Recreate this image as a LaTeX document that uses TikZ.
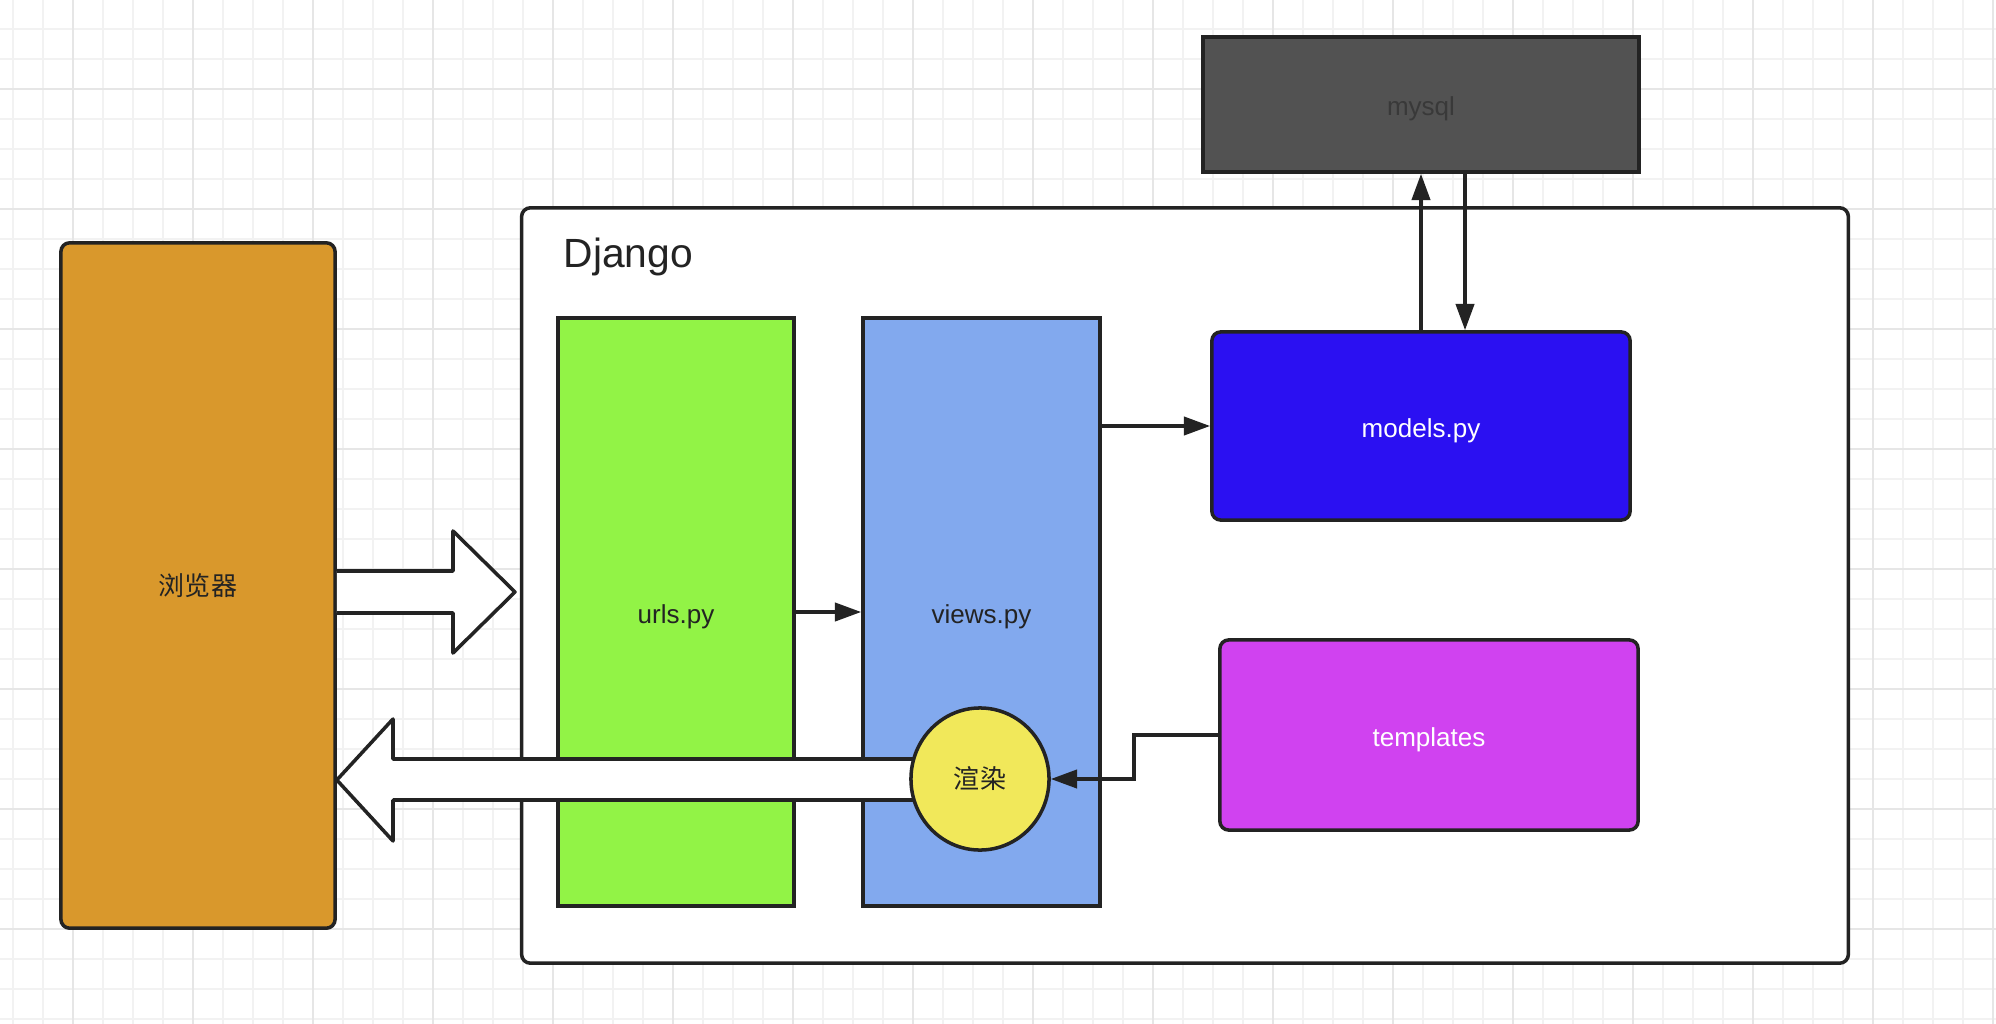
\documentclass[tikz,border=0pt]{standalone}
\usepackage{fontspec}
\setmainfont{Liberation Sans}
\newfontfamily\cjk{Noto Sans CJK SC}
\usepackage{xcolor}
\usetikzlibrary{arrows.meta, positioning, shapes.geometric}

\definecolor{edge}{HTML}{232323}
\definecolor{gridminor}{HTML}{F2F2F2}
\definecolor{gridmajor}{HTML}{E6E6E6}
\definecolor{browsercol}{HTML}{D9982C}
\definecolor{urlscol}{HTML}{92F346}
\definecolor{viewscol}{HTML}{82A9EE}
\definecolor{modelscol}{HTML}{2B10F2}
\definecolor{tplcol}{HTML}{D042F0}
\definecolor{dbcol}{HTML}{525252}
\definecolor{rendercol}{HTML}{F1E85A}

\begin{document}
\begin{tikzpicture}[
      x=0.01cm, y=-0.01cm,
      font=\fontsize{7.4pt}{9pt}\selectfont,
      part/.style={draw=edge, line width=1pt, inner sep=0pt, text=edge},
      rpart/.style={part, rounded corners=2.5pt},
      low/.style={text height=6.4pt, text depth=0pt},
      arr/.style={-{Triangle[length=7.5pt, width=5.2pt]}, draw=edge, line width=1pt},
      fat/.style={draw=edge, line width=1pt, fill=white, line join=round},
      minorline/.style={draw=gridminor, line width=0.55pt},
      majorline/.style={draw=gridmajor, line width=0.55pt}
    ]
    % background grid
    \fill[white] (0,0) rectangle (1996,1024);
    \useasboundingbox (0,0) rectangle (1996,1024);
    \foreach \gx in {13,43,...,1993} \draw[minorline] (\gx,0) -- (\gx,1024);
    \foreach \gy in {29,59,...,1019} \draw[minorline] (0,\gy) -- (1996,\gy);
    \foreach \gx in {73,193,...,1993} \draw[majorline] (\gx,0) -- (\gx,1024);
    \foreach \gy in {89,209,...,1009} \draw[majorline] (0,\gy) -- (1996,\gy);

    % boxes
    \node[rpart, fill=white, minimum width=13.26cm, minimum height=7.55cm] (django) at (1185,585.5) {};
    \node[anchor=base west, inner sep=0pt, text=edge, font=\fontsize{11.6pt}{14pt}\selectfont] (title) at (563,267) {Django};
    \node[rpart, fill=browsercol, minimum width=2.74cm, minimum height=6.85cm] (browser) at (198,585.5) {\cjk 浏览器};
    \node[part, low, fill=urlscol, minimum width=2.36cm, minimum height=5.88cm] (urls) at (676,612) {urls.py};
    \node[part, low, fill=viewscol, minimum width=2.37cm, minimum height=5.88cm] (views) at (981.5,612) {views.py};
    \node[rpart, low, fill=modelscol, text=white, minimum width=4.18cm, minimum height=1.88cm] (models) at (1421,426) {models.py};
    \node[rpart, low, fill=tplcol, text=white, minimum width=4.18cm, minimum height=1.90cm] (tpl) at (1429,735) {templates};
    \node[part, low, fill=dbcol, text=edge!90!white, minimum width=4.36cm, minimum height=1.35cm] (mysql) at (1421,104.5) {mysql};

    % request / response arrows
    \path[fat] (browser.east |- 0,571) -- (453,571) -- (453,531) -- (515,592)
      -- (453,653) -- (453,613) -- (browser.east |- 0,613);
    \path[fat] (980,759) -- (393,759) -- (393,719) -- (browser.east |- 0,780)
      -- (393,841) -- (393,800) -- (980,800);
    \node[part, ellipse, fill=rendercol, minimum width=1.38cm, minimum height=1.42cm] (render) at (980,779) {\cjk 渲染};

    \draw[arr] (urls.east) -- (views.west);
    \draw[arr] (views.east |- models.west) -- (models.west);
    \draw[arr] (models.north) -- (models.north |- mysql.south);
    \draw[arr] ([xshift=0.44cm]mysql.south) -- ([xshift=0.44cm]mysql.south |- models.north);
    \draw[arr] (tpl.west) -- ++(-84,0) |- (render.east);
  \end{tikzpicture}
\end{document}
